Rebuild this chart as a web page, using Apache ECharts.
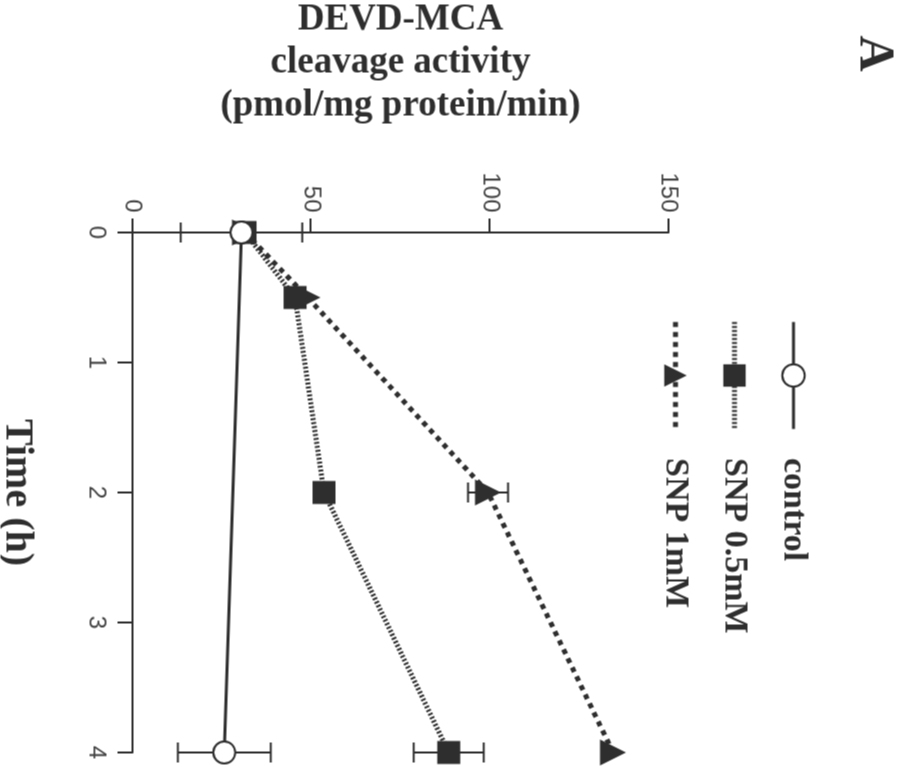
<!DOCTYPE html>
<html>
<head>
<meta charset="utf-8">
<script src="https://cdn.jsdelivr.net/npm/echarts@6/dist/echarts.min.js"></script>
<style>
  html, body { margin: 0; padding: 0; background: #fff; overflow: hidden; }
  #wrap { width: 909px; height: 774px; position: relative; overflow: hidden; }
  /* the figure is printed turned a quarter turn clockwise */
  #chart {
    position: absolute; width: 774px; height: 909px;
    left: 67.5px; top: -67.5px;
    transform: rotate(90deg);
  }
</style>
</head>
<body>
<div id="wrap"><div id="chart"></div></div>
<script>
// data
var seriesNames = ['control', 'SNP 0.5mM', 'SNP 1mM'];
var controlData = [[0, 30.5], [4, 25.7]];
var snp05Data   = [[0, 31.5], [0.5, 45.5], [2, 53.6], [4, 88.5]];
var snp1Data    = [[0, 31.5], [0.5, 49], [2, 99.5], [4, 134.5]];
// [time, mean, sd]
var controlErr  = [[0, 30.5, 17], [4, 25.7, 13]];
var snp05Err    = [[4, 88.5, 9.8]];
var snp1Err     = [[2, 99.5, 5.6]];

var ink = '#2e2e2e';
var serif = '"Liberation Serif", "DejaVu Serif", serif';

var lineStyles = {
    'control':   { color: ink, width: 3, type: 'solid' },
    'SNP 0.5mM': { color: ink, width: 5, type: [2, 2] },
    'SNP 1mM':   { color: ink, width: 5, type: [5, 5] }
};

function errSeries(data, z){
    return {
        type: 'custom',
        z: z,
        silent: true,
        data: data,
        renderItem: function(params, api){
            var t = api.value(0), m = api.value(1), e = api.value(2);
            var lo = api.coord([t, m - e]);
            var hi = api.coord([t, m + e]);
            var w = 10;
            var st = { stroke: ink, lineWidth: 2 };
            return {
                type: 'group',
                children: [
                    { type: 'line', shape: { x1: lo[0], y1: lo[1], x2: hi[0], y2: hi[1] }, style: st },
                    { type: 'line', shape: { x1: lo[0] - w, y1: lo[1], x2: lo[0] + w, y2: lo[1] }, style: st },
                    { type: 'line', shape: { x1: hi[0] - w, y1: hi[1], x2: hi[0] + w, y2: hi[1] }, style: st }
                ]
            };
        }
    };
}

var chart = echarts.init(document.getElementById('chart'));
var option = {
    backgroundColor: '#fff',
    animation: false,
    title: {
        text: 'A',
        left: 30,
        top: 6,
        textStyle: { fontFamily: serif, fontWeight: 'bold', fontSize: 50, color: ink }
    },
    legend: {
        data: seriesNames.map(function(n){ return { name: n, lineStyle: lineStyles[n] }; }),
        orient: 'vertical',
        left: 314,
        top: 94,
        itemWidth: 107,
        itemHeight: 28,
        itemGap: 25,
        textStyle: {
            fontFamily: serif, fontWeight: 'bold', fontSize: 34, color: ink,
            padding: [0, 0, 0, 24]
        }
    },
    grid: { left: 232, right: 22, top: 241, bottom: 132, outerBoundsMode: 'none' },
    xAxis: {
        type: 'value',
        min: 0, max: 4, interval: 1,
        name: 'Time (h)',
        nameLocation: 'middle',
        nameGap: 96,
        nameTextStyle: { fontFamily: serif, fontWeight: 'bold', fontSize: 40, color: ink },
        axisLine: { lineStyle: { color: ink, width: 2 } },
        axisTick: { length: 15, lineStyle: { color: ink, width: 2 } },
        axisLabel: { margin: 24, fontFamily: '"Liberation Sans", sans-serif', fontSize: 24, color: '#444' },
        splitLine: { show: false }
    },
    yAxis: {
        type: 'value',
        min: 0, max: 150, interval: 50,
        name: 'DEVD-MCA\ncleavage activity\n(pmol/mg protein/min)',
        nameLocation: 'middle',
        nameGap: 105,
        nameTextStyle: { fontFamily: serif, fontWeight: 'bold', fontSize: 37, lineHeight: 43, color: ink },
        axisLine: { show: true, lineStyle: { color: ink, width: 2 } },
        axisTick: { show: true, length: 14, lineStyle: { color: ink, width: 2 } },
        axisLabel: { margin: 20, fontFamily: '"Liberation Sans", sans-serif', fontSize: 24, color: '#444' },
        splitLine: { show: false }
    },
    series: [
        errSeries(snp1Err, 3),
        errSeries(snp05Err, 3),
        errSeries(controlErr, 5),
        {
            name: 'SNP 1mM', type: 'line', data: snp1Data, z: 2,
            symbol: 'triangle', symbolSize: 26,
            itemStyle: { color: ink },
            lineStyle: lineStyles['SNP 1mM']
        },
        {
            name: 'SNP 0.5mM', type: 'line', data: snp05Data, z: 3,
            symbol: 'rect', symbolSize: 23,
            itemStyle: { color: ink },
            lineStyle: lineStyles['SNP 0.5mM']
        },
        {
            name: 'control', type: 'line', data: controlData, z: 6,
            symbol: 'circle', symbolSize: 22,
            itemStyle: { color: '#fff', borderColor: ink, borderWidth: 2 },
            lineStyle: lineStyles['control']
        }
    ]
};
chart.setOption(option);
</script>
</body>
</html>
